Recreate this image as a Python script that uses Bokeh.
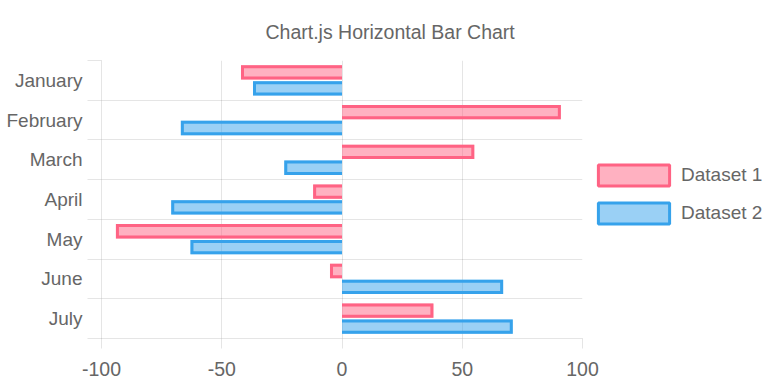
from bokeh.plotting import figure
from bokeh.models import Range1d, FixedTicker, Legend, LegendItem
from bokeh.embed import file_html
from bokeh.resources import INLINE

# ---- data ----
months = ["January", "February", "March", "April", "May", "June", "July"]
dataset1 = [-42, 91, 55, -12, -94, -5, 38]
dataset2 = [-37, -67, -24, -71, -63, 67, 71]
x_ticks = [-100, -50, 0, 50, 100]
series_labels = ["Dataset 1", "Dataset 2"]
series_colors = ["#FF6384", "#36A2EB"]
title_text = "Chart.js Horizontal Bar Chart"

# ---- styling / layout ----
FONT = "Liberation Sans"
TEXT = "#666666"
FW, FH = 481, 278
ML, MR, MT, MB = 101, 195, 60, 50
X_MIN, X_MAX = -100, 100
n = len(months)

p = figure(frame_width=FW, frame_height=FH, output_backend="svg",
           toolbar_location=None,
           x_range=Range1d(X_MIN, X_MAX), y_range=Range1d(n - 0.5, -0.5),
           min_border_left=ML, min_border_right=MR, min_border_top=MT,
           min_border_bottom=MB, outline_line_color=None,
           background_fill_color="white", border_fill_color="white")

p.title.text = title_text
p.title.align = "left"
p.title.offset = 164
p.title.standoff = 35
p.title.text_font = FONT
p.title.text_font_size = "19.5px"
p.title.text_font_style = "normal"
p.title.text_color = TEXT

series = [dataset1, dataset2]
cat_pct, bar_pct = 0.8, 0.9
slot = cat_pct / len(series)
bar_h = slot * bar_pct
bw = 3
hx = bw / 2 * (X_MAX - X_MIN) / FW
hy = bw / 2 * n / FH

items = []
for k, (vals, color, lab) in enumerate(zip(series, series_colors, series_labels)):
    ys = [i - cat_pct / 2 + slot * (k + 0.5) for i in range(n)]
    p.hbar(y=ys, left=0, right=vals, height=bar_h, fill_color=color,
           fill_alpha=0.5, line_color=None)
    xs_b, ys_b = [], []
    for v, y in zip(vals, ys):
        s = 1 if v >= 0 else -1
        xe = v - s * hx
        y0 = y - bar_h / 2 + hy
        y1 = y + bar_h / 2 - hy
        xs_b.append([0, xe, xe, 0])
        ys_b.append([y0, y0, y1, y1])
    p.multi_line(xs_b, ys_b, line_color=color, line_width=bw, line_join="miter")
    key = p.hbar(y=ys, left=0, right=vals, height=bar_h, fill_color=color,
                 fill_alpha=0.5, line_color=color, line_width=bw, visible=False)
    items.append(LegendItem(label=lab, renderers=[key], index=0))

# ---- axes & grids ----
p.xaxis.ticker = FixedTicker(ticks=x_ticks)
p.xaxis.major_label_overrides = {t: str(t) for t in x_ticks}
p.xgrid.ticker = FixedTicker(ticks=x_ticks)
p.yaxis.ticker = FixedTicker(ticks=list(range(n)),
                             minor_ticks=[i - 0.5 for i in range(n + 1)])
p.yaxis.major_label_overrides = {i: m for i, m in enumerate(months)}
p.ygrid.ticker = FixedTicker(ticks=[i - 0.5 for i in range(n + 1)])

for g in (p.xgrid, p.ygrid):
    g.grid_line_color = "black"
    g.grid_line_alpha = 0.1
    g.grid_line_width = 1

for ax in (p.xaxis, p.yaxis):
    ax.axis_line_color = "black"
    ax.axis_line_alpha = 0.1
    ax.major_label_text_font = FONT
    ax.major_label_text_color = TEXT
    ax.major_tick_in = 0
    ax.minor_tick_in = 0

p.xaxis.major_label_text_font_size = "19.5px"
p.xaxis.major_tick_out = 10
p.xaxis.major_tick_line_color = "black"
p.xaxis.major_tick_line_alpha = 0.1
p.xaxis.minor_tick_line_color = None
p.xaxis.major_label_standoff = 13

p.yaxis.major_label_text_font_size = "19px"
p.yaxis.major_tick_out = 0
p.yaxis.major_tick_line_color = None
p.yaxis.minor_tick_out = 14
p.yaxis.minor_tick_line_color = "black"
p.yaxis.minor_tick_line_alpha = 0.1
p.yaxis.major_label_standoff = 5

# ---- legend ----
legend = Legend(items=items, location=(7, 112), glyph_width=89,
                glyph_height=26, label_height=26, spacing=12, label_standoff=3,
                padding=10, margin=0, border_line_color=None,
                background_fill_alpha=0, label_text_font=FONT,
                label_text_font_size="19px", label_text_color=TEXT)
p.add_layout(legend, "right")

open("out.html", "w").write(file_html(p, INLINE))
